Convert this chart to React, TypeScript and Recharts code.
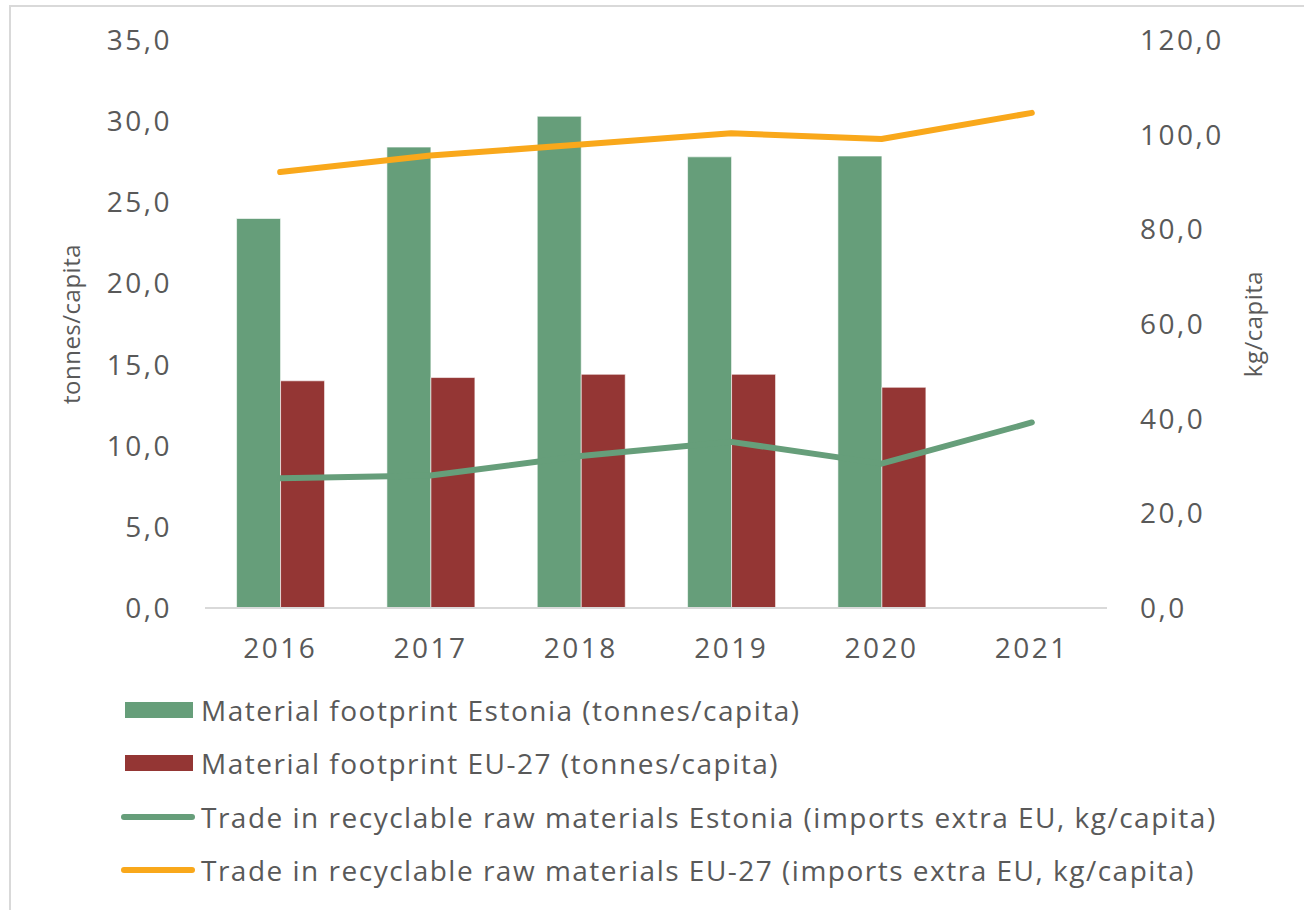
import React from 'react';
import { ComposedChart, Bar, Line, XAxis, YAxis, Legend, Label } from 'recharts';

const years = ['2016', '2017', '2018', '2019', '2020', '2021'];
const footprintEstonia = [24.0, 28.4, 30.3, 27.8, 27.85, null];
const footprintEU27 = [14.0, 14.2, 14.4, 14.4, 13.6, null];
const tradeEstonia = [27.4, 28.0, 32.1, 35.1, 30.5, 39.2];
const tradeEU27 = [92.1, 95.6, 97.9, 100.3, 99.1, 104.6];

const leftTicks = [0, 5, 10, 15, 20, 25, 30, 35];
const rightTicks = [0, 20, 40, 60, 80, 100, 120];

const seriesNames = [
  'Material footprint Estonia (tonnes/capita)',
  'Material footprint EU-27 (tonnes/capita)',
  'Trade in recyclable raw materials Estonia (imports extra EU, kg/capita)',
  'Trade in recyclable raw materials EU-27 (imports extra EU, kg/capita)',
];
const seriesKinds = ['bar', 'bar', 'line', 'line'];
const seriesColors = ['#669e7a', '#943634', '#669e7a', '#f9a81b'];

const TEXT = '#595959';
const FONT = "'Open Sans', sans-serif";

const data = years.map((year, i) => ({
  year,
  estBar: footprintEstonia[i],
  euBar: footprintEU27[i],
  estLine: tradeEstonia[i],
  euLine: tradeEU27[i],
}));

const fmt = (v: number) => v.toFixed(1).replace('.', ',');

const tickStyle = { fill: TEXT, fontSize: 28, letterSpacing: 2.5, fontFamily: FONT };

const axisTitle = (text: string, dx: number) => (props: any) => {
  const vb = props.viewBox || {};
  const x = vb.x + dx;
  const y = vb.y + vb.height / 2;
  return (
    <text
      x={x}
      y={y}
      transform={`rotate(-90, ${x}, ${y})`}
      textAnchor="middle"
      fill={TEXT}
      fontSize={24}
      letterSpacing={0.5}
      fontFamily={FONT}
    >
      {text}
    </text>
  );
};

const ChartLegend = () => (
  <div style={{ fontFamily: FONT, color: TEXT, fontSize: 28, letterSpacing: 1.5 }}>
    {seriesNames.map((name, i) => (
      <div key={name} style={{ display: 'flex', alignItems: 'center', height: 53.5 }}>
        {seriesKinds[i] === 'bar' ? (
          <span style={{ display: 'inline-block', width: 68, height: 16, background: seriesColors[i], marginRight: 8 }} />
        ) : (
          <span style={{ display: 'inline-block', width: 74, height: 6, borderRadius: 3, background: seriesColors[i], marginLeft: -4, marginRight: 6 }} />
        )}
        <span style={{ whiteSpace: 'nowrap' }}>{name}</span>
      </div>
    ))}
  </div>
);

export default function App() {
  return (
    <div style={{ position: 'absolute', left: 0, top: 0, width: 1304, height: 910, background: '#fff', overflow: 'hidden' }}>
      <div
        style={{
          position: 'absolute',
          left: 9,
          top: 5,
          width: 1295,
          height: 905,
          borderTop: '2px solid #d9d9d9',
          borderLeft: '2px solid #d9d9d9',
          boxSizing: 'border-box',
        }}
      />
      <ComposedChart
        width={1304}
        height={910}
        data={data}
        margin={{ top: 40, right: 0, bottom: 242, left: 0 }}
        barCategoryGap="21%"
        barGap={0}
        style={{ position: 'absolute', left: 0, top: 0, fontFamily: FONT }}
      >
        <XAxis
          dataKey="year"
          axisLine={{ stroke: '#d9d9d9', strokeWidth: 2 }}
          tickLine={false}
          tickSize={0}
          tickMargin={30}
          height={60}
          tick={tickStyle}
        />
        <YAxis
          yAxisId="left"
          domain={[0, 35]}
          ticks={leftTicks}
          tickFormatter={fmt}
          width={205}
          axisLine={false}
          tickLine={false}
          tickSize={0}
          tickMargin={33}
          tick={tickStyle}
        >
          <Label content={axisTitle('tonnes/capita', 80)} />
        </YAxis>
        <YAxis
          yAxisId="right"
          orientation="right"
          domain={[0, 120]}
          ticks={rightTicks}
          tickFormatter={fmt}
          width={197}
          axisLine={false}
          tickLine={false}
          tickSize={0}
          tickMargin={33}
          tick={{ ...tickStyle, textAnchor: 'start' }}
        >
          <Label content={axisTitle('kg/capita', 155)} />
        </YAxis>
        <Bar yAxisId="left" dataKey="estBar" name={seriesNames[0]} fill={seriesColors[0]} stroke="#ffffff" strokeOpacity={0.6} strokeWidth={1} isAnimationActive={false} />
        <Bar yAxisId="left" dataKey="euBar" name={seriesNames[1]} fill={seriesColors[1]} stroke="#ffffff" strokeOpacity={0.6} strokeWidth={1} isAnimationActive={false} />
        <Line yAxisId="right" dataKey="estLine" name={seriesNames[2]} stroke={seriesColors[2]} strokeWidth={6} strokeLinecap="round" strokeLinejoin="round" dot={false} activeDot={false} isAnimationActive={false} />
        <Line yAxisId="right" dataKey="euLine" name={seriesNames[3]} stroke={seriesColors[3]} strokeWidth={6} strokeLinecap="round" strokeLinejoin="round" dot={false} activeDot={false} isAnimationActive={false} />
        <Legend
          layout="vertical"
          align="center"
          verticalAlign="middle"
          content={() => <ChartLegend />}
          wrapperStyle={{ left: 125, top: 683, width: 1170, height: 214 }}
        />
      </ComposedChart>
    </div>
  );
}
